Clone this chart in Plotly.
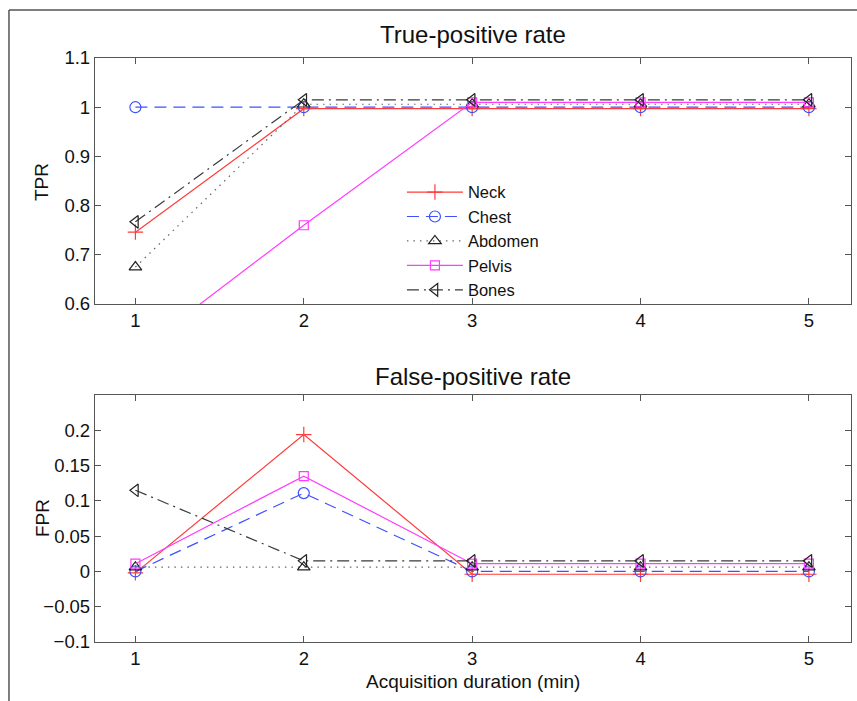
import plotly.graph_objects as go

# ---- data ----
durations = [1, 2, 3, 4, 5]
series_names = ["Neck", "Chest", "Abdomen", "Pelvis", "Bones"]
tpr_neck = [0.746, 0.997, 0.997, 0.997, 0.997]
tpr_chest = [1.0, 1.0, 1.0, 1.0, 1.0]
tpr_abdomen = [0.675, 1.006, 1.006, 1.006, 1.006]
tpr_pelvis = [0.50, 0.760, 1.010, 1.010, 1.010]
tpr_bones = [0.767, 1.015, 1.015, 1.015, 1.015]

fpr_neck = [-0.002, 0.194, -0.004, -0.004, -0.004]
fpr_chest = [0.0, 0.111, 0.0, 0.0, 0.0]
fpr_abdomen = [0.006, 0.006, 0.006, 0.006, 0.006]
fpr_pelvis = [0.011, 0.135, 0.011, 0.011, 0.011]
fpr_bones = [0.115, 0.015, 0.015, 0.015, 0.015]

x_ticks = [1, 2, 3, 4, 5]
tpr_tickvals = [0.6, 0.7, 0.8, 0.9, 1.0, 1.1]
tpr_ticktext = ["0.6", "0.7", "0.8", "0.9", "1", "1.1"]
fpr_tickvals = [-0.1, -0.05, 0, 0.05, 0.1, 0.15, 0.2]
fpr_ticktext = ["\u22120.1", "\u22120.05", "0", "0.05", "0.1", "0.15", "0.2"]

tpr_values = [tpr_neck, tpr_chest, tpr_abdomen, tpr_pelvis, tpr_bones]
fpr_values = [fpr_neck, fpr_chest, fpr_abdomen, fpr_pelvis, fpr_bones]

# ---- styles ----
styles = [
    dict(color="#ff3b3b", dash="solid", symbol="cross-thin", msize=11, mcolor="#ff3b3b"),
    dict(color="#3f50ff", dash="12px,7px", symbol="circle-open", msize=11, mcolor="#3f50ff"),
    dict(color="#666666", dash="1.5px,5px", symbol="triangle-up-open", msize=11, mcolor="#222222"),
    dict(color="#ff3cff", dash="solid", symbol="square-open", msize=9, mcolor="#ff3cff"),
    dict(color="#3a3a3a", dash="12px,5px,2px,5px", symbol="triangle-left-open", msize=11, mcolor="#222222"),
]

FONT = "Liberation Sans, Arial, Helvetica, sans-serif"
fig = go.Figure()

for name, vals, st in zip(series_names, tpr_values, styles):
    fig.add_trace(go.Scatter(
        x=durations, y=vals, name=name, mode="lines+markers",
        line=dict(color=st["color"], width=1.2, dash=st["dash"]),
        marker=dict(symbol=st["symbol"], size=st["msize"], color=st["mcolor"],
                    line=dict(color=st["mcolor"], width=1.2)),
        xaxis="x", yaxis="y", showlegend=True,
    ))
for name, vals, st in zip(series_names, fpr_values, styles):
    fig.add_trace(go.Scatter(
        x=durations, y=vals, name=name, mode="lines+markers",
        line=dict(color=st["color"], width=1.2, dash=st["dash"]),
        marker=dict(symbol=st["symbol"], size=st["msize"], color=st["mcolor"],
                    line=dict(color=st["mcolor"], width=1.2)),
        xaxis="x2", yaxis="y2", showlegend=False,
    ))

axis_common = dict(
    showline=True, linecolor="#555555", linewidth=1.3, mirror="ticks",
    ticks="inside", ticklen=6, tickcolor="#555555", tickwidth=1.3,
    showgrid=False, zeroline=False,
    tickfont=dict(family=FONT, size=18.5, color="#111111"),
)

fig.update_layout(
    width=857, height=701,
    margin=dict(l=95, r=6, t=58, b=59),
    paper_bgcolor="white", plot_bgcolor="white",
    font=dict(family=FONT, size=18, color="#111111"),
    xaxis=dict(domain=[0, 1], range=[0.76, 5.25], tickvals=x_ticks, anchor="y", **axis_common),
    yaxis=dict(domain=[0.5788, 1], range=[0.6, 1.1], tickvals=tpr_tickvals,
               ticktext=tpr_ticktext, anchor="x", **axis_common),
    xaxis2=dict(domain=[0, 1], range=[0.76, 5.25], tickvals=x_ticks, anchor="y2", **axis_common),
    yaxis2=dict(domain=[0, 0.4229], range=[-0.1, 0.25], tickvals=fpr_tickvals,
                ticktext=fpr_ticktext, anchor="x2", **axis_common),
    showlegend=True,
    legend=dict(x=0.406, y=0.80, xanchor="left", yanchor="top",
                bgcolor="rgba(255,255,255,0)", borderwidth=0,
                font=dict(family=FONT, size=16.5, color="#111111"),
                itemwidth=56, tracegroupgap=0),
    annotations=[
        dict(text="True-positive rate", x=0.5, y=1.041, xref="paper", yref="paper",
             xanchor="center", yanchor="middle", showarrow=False,
             font=dict(family=FONT, size=24, color="#111111")),
        dict(text="False-positive rate", x=0.5, y=0.4538, xref="paper", yref="paper",
             xanchor="center", yanchor="middle", showarrow=False,
             font=dict(family=FONT, size=24, color="#111111")),
        dict(text="TPR", x=-0.0700, y=0.7877, xref="paper", yref="paper",
             xanchor="center", yanchor="middle", showarrow=False, textangle=-90,
             font=dict(family=FONT, size=19, color="#111111")),
        dict(text="FPR", x=-0.0700, y=0.2123, xref="paper", yref="paper",
             xanchor="center", yanchor="middle", showarrow=False, textangle=-90,
             font=dict(family=FONT, size=19, color="#111111")),
        dict(text="Acquisition duration (min)", x=0.5, y=-0.0668, xref="paper", yref="paper",
             xanchor="center", yanchor="middle", showarrow=False,
             font=dict(family=FONT, size=19, color="#111111")),
    ],
    shapes=[
        dict(type="line", xref="paper", yref="paper", x0=-0.1138, x1=1.05, y0=1.0822, y1=1.0822,
             line=dict(color="#555555", width=1.5)),
        dict(type="line", xref="paper", yref="paper", x0=-0.1138, x1=-0.1138, y0=1.0822, y1=-0.12,
             line=dict(color="#555555", width=1.5)),
    ],
)

fig.write_html("out.html", config={"displayModeBar": False},
               post_script="document.body.style.margin='0';document.body.style.overflow='hidden';")
